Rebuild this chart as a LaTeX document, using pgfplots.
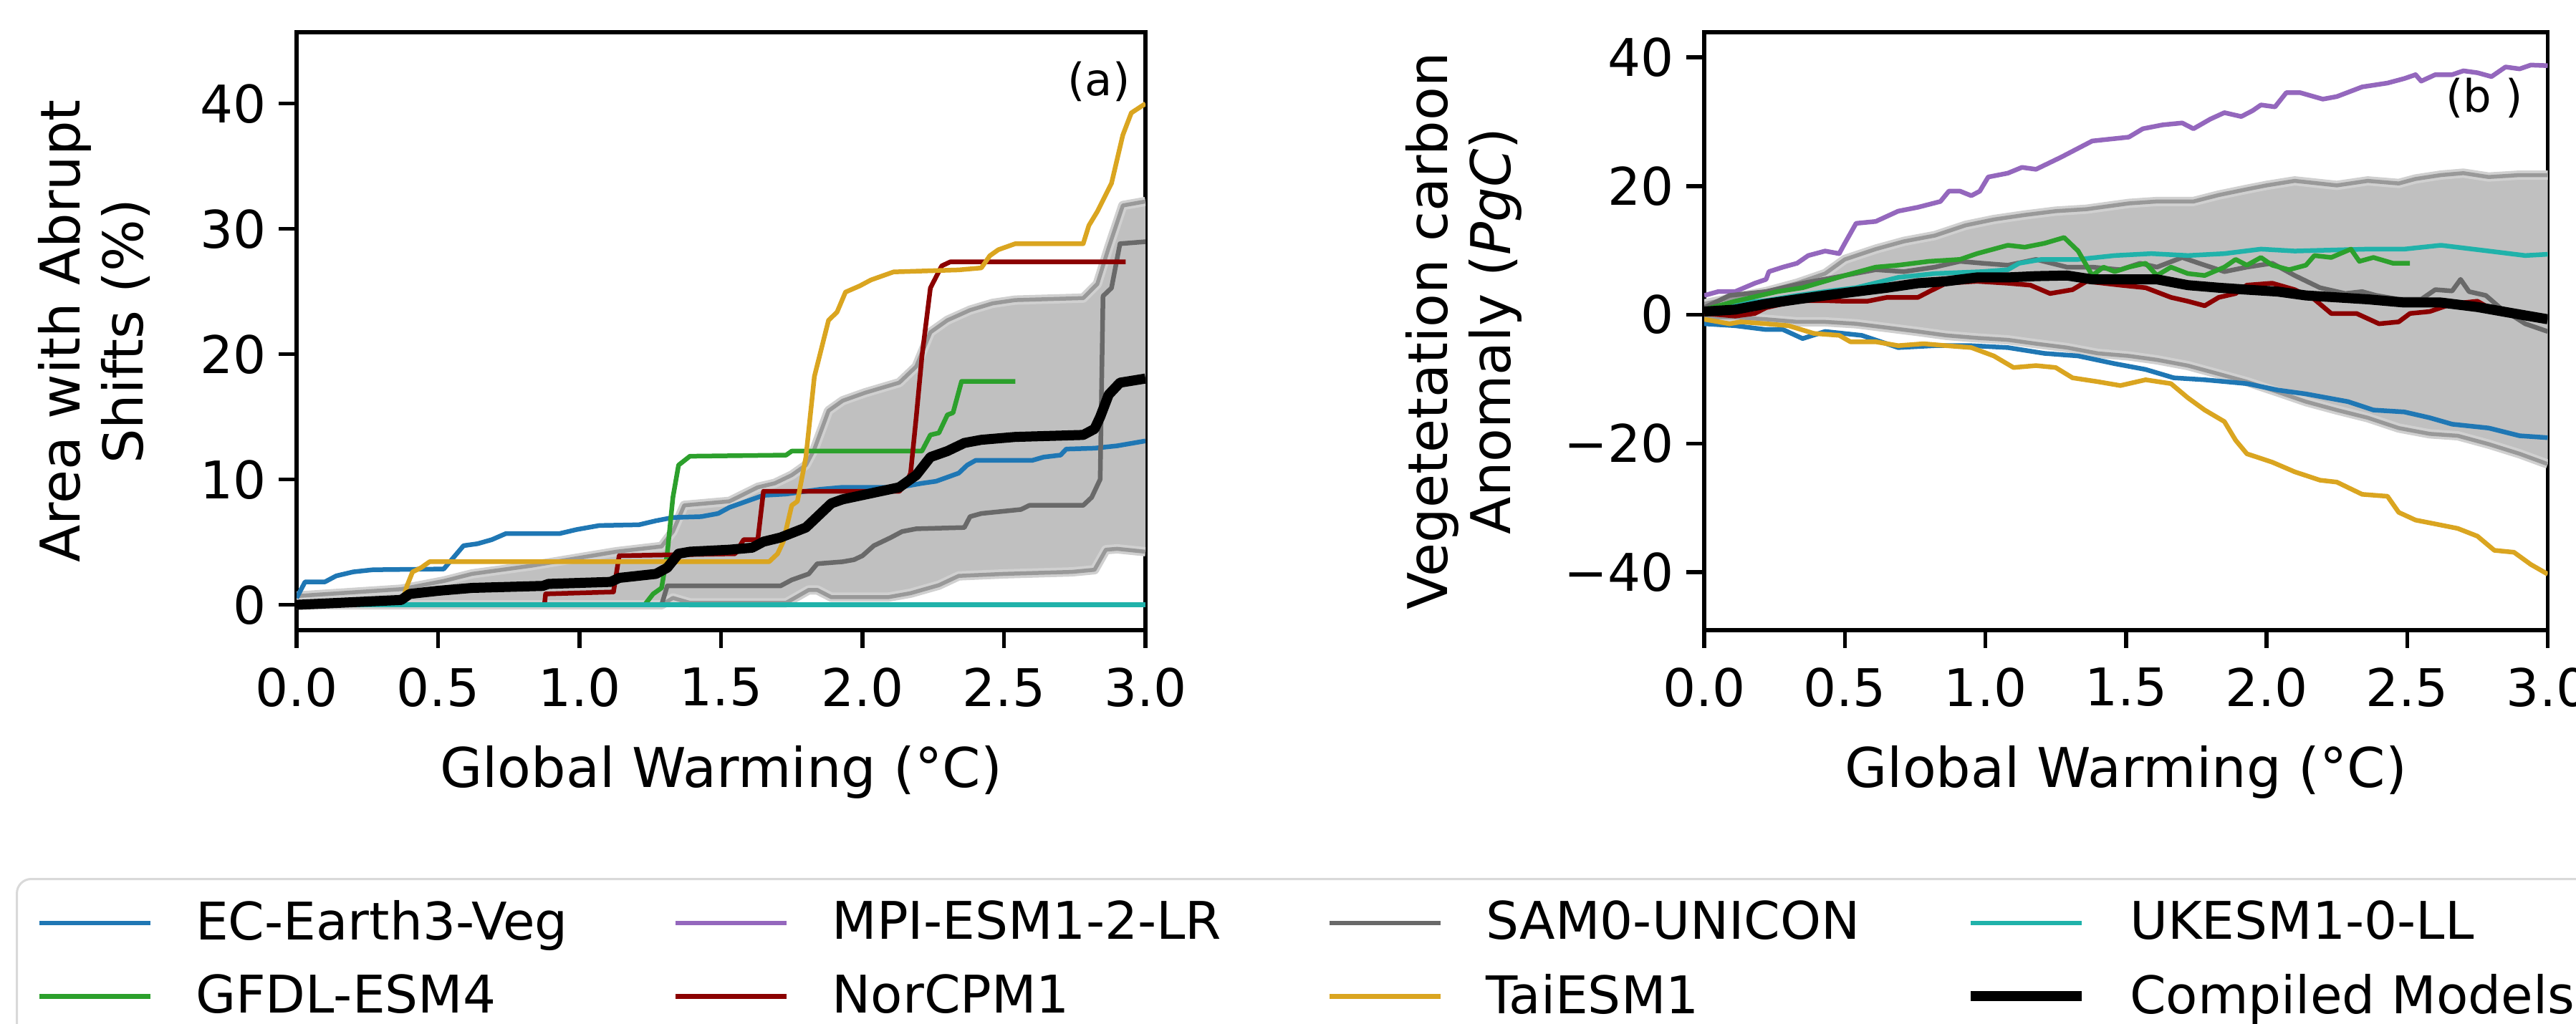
\documentclass[border=0pt]{standalone}
\usepackage{fontspec}
\setmainfont{DejaVu Sans}
\usepackage{pgfplots}
\pgfplotsset{compat=1.18}
\usepgfplotslibrary{fillbetween}

\definecolor{cEC}{HTML}{1F77B4}
\definecolor{cGF}{HTML}{2CA02C}
\definecolor{cMP}{HTML}{9467BD}
\definecolor{cNO}{HTML}{8B0000}
\definecolor{cSA}{HTML}{696969}
\definecolor{cTA}{HTML}{DAA520}
\definecolor{cUK}{HTML}{20B2AA}
\definecolor{band}{HTML}{C0C0C0}
\definecolor{bandedge}{HTML}{999999}
\definecolor{bandhalo}{HTML}{D0D0D0}

\newcommand{\fs}{\fontsize{14.5}{17.4}\selectfont}
\newcommand{\fl}{\fontsize{15.3}{17.6}\selectfont}

\pgfplotsset{
  panel/.style={
    scale only axis, height=167pt, set layers,
    xmin=0, xmax=3, xtick={0,0.5,...,3},
    xticklabels={0.0,0.5,1.0,1.5,2.0,2.5,3.0},
    axis line style={line width=1.1pt},
    tick style={line width=1.1pt, black}, tick align=outside,
    major tick length=5pt, xtick pos=left, ytick pos=left,
    tick label style={font=\fs}, label style={font=\fl},
    xticklabel style={yshift=-2pt},
    /pgf/number format/assume math mode=true,
    xlabel={Global Warming (°C)}, xlabel shift=4pt,
    ylabel style={align=center},
    every axis plot/.append style={line width=1.3pt, line join=round},
  },
  mean/.style={black, line width=2.8pt},
  edge/.style={bandedge, line width=1.1pt, preaction={draw=bandhalo, line width=2.6pt}},
}

\begin{document}
\begin{tikzpicture}

% ---------- (a) area with abrupt shifts
\begin{axis}[panel, width=237pt, at={(82.8pt,110pt)}, anchor=south west,
  ymin=-2.02, ymax=45.7, ytick={0,10,20,30,40},
  ylabel={Area with Abrupt\\Shifts (\%)}, ylabel shift=7pt]

\addplot[edge, name path=aup] table {
x y
0 0.7
0.37 1.25
0.52 1.9
0.62 2.47
0.83 3.12
1.13 4.24
1.29 4.66
1.33 5.85
1.37 7.94
1.53 8.26
1.63 9.38
1.69 9.70
1.75 10.35
1.80 11.15
1.83 12.43
1.88 15.49
1.93 16.29
2.01 16.93
2.13 17.73
2.19 19.02
2.24 21.75
2.30 22.71
2.38 23.52
2.46 24.06
2.54 24.32
2.78 24.48
2.83 25.61
2.87 28.50
2.92 31.87
3.00 32.19
};
\addplot[edge, name path=alo] table {
x y
0 0
1.29 0
1.33 0.55
1.39 0.16
1.73 0.16
1.81 1.19
1.84 1.19
1.89 0.61
2.09 0.61
2.17 0.93
2.27 1.57
2.34 2.31
2.50 2.47
2.74 2.63
2.82 2.80
2.86 4.40
2.90 4.47
3.00 4.24
};
\addplot[band] fill between[of=aup and alo];

% EC-Earth3-Veg
\addplot[cEC] table {
x y
0 0.55
0.03 1.83
0.10 1.83
0.14 2.31
0.20 2.63
0.27 2.80
0.52 2.86
0.56 3.92
0.59 4.72
0.64 4.88
0.69 5.20
0.74 5.69
0.93 5.69
0.99 6.01
1.07 6.33
1.21 6.39
1.27 6.71
1.33 6.97
1.43 7.04
1.49 7.29
1.53 7.78
1.59 8.26
1.65 8.74
1.73 8.84
1.85 9.22
1.93 9.38
2.13 9.38
2.21 9.70
2.26 9.86
2.34 10.51
2.37 11.15
2.40 11.53
2.60 11.53
2.64 11.79
2.70 11.95
2.72 12.43
2.82 12.50
2.90 12.69
3.00 13.08
};
% SAM0-UNICON
\addplot[cSA] table {
x y
0 0
1.29 0
1.31 1.51
1.71 1.51
1.75 1.99
1.81 2.47
1.84 3.28
1.93 3.44
1.97 3.60
2.00 3.92
2.04 4.72
2.10 5.37
2.14 5.85
2.19 6.07
2.36 6.17
2.38 7.04
2.42 7.29
2.56 7.61
2.59 7.94
2.78 7.94
2.81 8.58
2.84 10.02
2.85 24.64
2.88 25.29
2.91 28.82
3.00 28.98
};
% GFDL-ESM4
\addplot[cGF] table {
x y
0 0
1.23 0
1.26 0.87
1.29 1.35
1.31 4.08
1.33 8.58
1.35 11.15
1.39 11.86
1.73 11.95
1.75 12.27
2.21 12.27
2.24 13.56
2.27 13.72
2.30 15.16
2.32 15.33
2.35 17.83
2.54 17.83
};
% NorCPM1
\addplot[cNO] table {
x y
0 0
0.876 0
0.88 0.87
1.12 1.03
1.14 3.92
1.55 4.08
1.58 5.20
1.63 5.20
1.65 9.06
2.13 9.06
2.15 9.54
2.17 10.51
2.19 15.00
2.21 19.82
2.24 25.29
2.28 27.05
2.31 27.37
2.93 27.37
};
% TaiESM1
\addplot[cTA] table {
x y
0 0
0.37 0
0.39 1.51
0.41 2.63
0.44 2.96
0.47 3.44
1.67 3.44
1.70 4.08
1.72 5.04
1.75 7.94
1.77 8.26
1.80 11.79
1.83 18.22
1.88 22.71
1.91 23.36
1.94 24.96
1.99 25.45
2.03 25.93
2.11 26.57
2.34 26.73
2.42 26.89
2.45 27.86
2.48 28.34
2.54 28.82
2.78 28.82
2.80 30.27
2.83 31.39
2.88 33.64
2.92 37.49
2.95 39.26
3.00 40.00
};
% UKESM1-0-LL
\addplot[cUK] table {
x y
0 0
3 0
};
% compiled models
\addplot[mean] table {
x y
0 0
0.37 0.39
0.40 0.87
0.50 1.12
0.62 1.35
0.87 1.51
0.89 1.67
1.11 1.83
1.14 2.15
1.27 2.47
1.31 2.96
1.35 4.08
1.39 4.24
1.53 4.40
1.61 4.56
1.65 5.04
1.71 5.37
1.80 6.17
1.89 8.10
1.93 8.42
2.03 8.90
2.13 9.38
2.19 10.35
2.24 11.79
2.30 12.27
2.36 12.92
2.42 13.17
2.54 13.40
2.78 13.56
2.82 14.04
2.84 15.00
2.87 16.77
2.91 17.73
3.00 18.06
};
\node[font=\fontsize{12.5}{15}\selectfont] at (rel axis cs:0.945,0.918) {(a)};
\end{axis}

% ---------- (b) vegetation carbon anomaly
\begin{axis}[panel, width=235.5pt, at={(475.8pt,110pt)}, anchor=south west,
  ymin=-49, ymax=43.9, ytick={-40,-20,0,20,40},
  yticklabels={−40,−20,0,20,40},
  ylabel={Vegetetation carbon\\Anomaly (\textit{PgC})}, ylabel shift=5pt,
  legend columns=4, legend cell align=left,
  legend image code/.code={\draw[#1] (0pt,0pt) -- (31pt,0pt);},
  legend style={at={(-2.0017,-0.4144)}, anchor=north west,
    draw=gray!30, line width=0.6pt, rounded corners=4pt, font=\fs,
    inner xsep=5.6pt, inner ysep=6pt, row sep=8pt,
    nodes={inner sep=0pt},
    /tikz/every odd column/.append style={column sep=12pt},
    /tikz/every even column/.append style={column sep=29.5pt}}]

\addplot[edge, name path=bup, forget plot] table {
x y
0 1.7
0.11 2.7
0.22 3.6
0.33 4.9
0.43 6.4
0.50 8.6
0.61 10.2
0.71 11.4
0.82 12.3
0.93 13.9
1.03 14.8
1.14 15.5
1.25 16.1
1.36 16.4
1.51 17.3
1.61 17.6
1.74 17.6
1.83 18.6
1.93 19.5
2.00 20.1
2.10 20.8
2.25 20.1
2.36 20.8
2.47 20.4
2.53 21.1
2.62 21.7
2.70 22.0
2.79 21.4
2.90 21.7
3.00 21.7
};
\addplot[edge, name path=blo, forget plot] table {
x y
0 -0.4
0.11 -0.4
0.22 -0.7
0.33 -1.1
0.43 -1.1
0.54 -1.4
0.65 -2.0
0.76 -2.6
0.86 -3.2
0.97 -3.6
1.08 -3.9
1.18 -4.5
1.29 -5.1
1.40 -6.0
1.51 -6.4
1.61 -7.0
1.72 -7.9
1.83 -9.2
1.93 -10.4
2.04 -12.0
2.14 -13.5
2.25 -14.8
2.36 -16.0
2.47 -17.6
2.58 -18.5
2.68 -18.8
2.79 -20.1
2.90 -21.6
3.00 -23.2
};
\addplot[band, forget plot] fill between[of=bup and blo];

% EC-Earth3-Veg
\addplot[cEC] table {
x y
0 -1.4
0.11 -1.7
0.22 -2.3
0.28 -2.3
0.35 -3.7
0.43 -2.6
0.56 -3.2
0.69 -5.1
0.82 -4.8
0.95 -4.8
1.08 -5.1
1.21 -6.0
1.33 -6.4
1.46 -7.6
1.57 -8.5
1.67 -9.8
1.78 -10.1
1.93 -10.7
2.04 -11.7
2.14 -12.3
2.29 -13.5
2.38 -14.8
2.49 -15.1
2.58 -16.0
2.66 -17.0
2.79 -17.6
2.90 -18.8
3.00 -19.1
};
\addlegendentry{EC-Earth3-Veg}
% MPI-ESM1-2-LR
\addplot[cMP] table {
x y
0 3.0
0.05 3.6
0.11 3.6
0.18 4.9
0.22 5.5
0.23 6.7
0.28 7.4
0.33 8.0
0.37 9.2
0.43 9.9
0.48 9.5
0.50 11.1
0.54 14.2
0.61 14.5
0.69 16.1
0.76 16.7
0.84 17.6
0.87 19.2
0.91 19.2
0.95 18.5
0.98 19.2
1.01 21.4
1.08 22.0
1.13 22.9
1.18 22.6
1.27 24.5
1.38 27.0
1.51 27.6
1.56 28.9
1.63 29.5
1.70 29.8
1.74 28.9
1.80 30.4
1.85 31.4
1.91 30.8
1.95 31.7
1.98 32.6
2.03 32.3
2.07 34.5
2.12 34.5
2.20 33.5
2.25 33.9
2.34 35.4
2.43 36.0
2.49 36.7
2.53 37.3
2.55 36.3
2.60 37.3
2.66 37.3
2.70 37.9
2.75 37.6
2.80 37.0
2.85 38.5
2.90 38.2
2.94 38.8
3.00 38.7
};
\addlegendentry{MPI-ESM1-2-LR}
% SAM0-UNICON
\addplot[cSA] table {
x y
0 1.1
0.09 3.0
0.22 3.6
0.35 4.9
0.50 6.1
0.61 7.0
0.71 6.7
0.82 7.4
0.91 8.3
0.99 8.0
1.08 7.7
1.18 8.6
1.29 7.4
1.38 7.4
1.48 7.0
1.55 8.0
1.61 7.4
1.70 8.9
1.76 8.0
1.85 6.7
1.93 7.4
2.02 8.0
2.10 6.1
2.19 4.2
2.28 3.3
2.34 3.6
2.39 3.0
2.47 2.4
2.55 2.4
2.60 3.9
2.66 3.7
2.69 5.5
2.72 3.6
2.78 3.0
2.83 1.1
2.92 -1.4
3.00 -2.6
};
\addlegendentry{SAM0-UNICON}
% UKESM1-0-LL
\addplot[cUK] table {
x y
0 0.5
0.09 1.7
0.22 2.2
0.33 3.0
0.43 3.6
0.54 4.2
0.69 5.8
0.82 6.4
0.99 6.7
1.08 7.0
1.12 8.0
1.20 8.6
1.33 8.6
1.46 9.2
1.59 9.5
1.72 9.2
1.85 9.5
1.98 10.2
2.10 9.9
2.36 10.2
2.49 10.2
2.62 10.8
2.79 9.9
2.92 9.2
3.00 9.4
};
\addlegendentry{UKESM1-0-LL}
% GFDL-ESM4
\addplot[cGF] table {
x y
0 0.8
0.11 2.1
0.26 3.6
0.35 4.2
0.50 6.1
0.61 7.4
0.69 7.7
0.80 8.3
0.91 8.6
0.97 9.5
1.08 10.8
1.14 10.5
1.21 11.1
1.28 12.0
1.33 9.9
1.38 6.1
1.42 7.4
1.46 6.7
1.51 7.4
1.57 8.0
1.61 6.1
1.66 7.4
1.72 6.4
1.78 6.1
1.85 7.4
1.89 8.6
1.93 7.7
1.98 8.9
2.02 7.7
2.08 7.0
2.14 7.7
2.17 9.2
2.23 8.9
2.30 10.2
2.33 8.3
2.38 8.9
2.45 8.0
2.51 8.0
};
\addlegendentry{GFDL-ESM4}
% NorCPM1
\addplot[cNO] table {
x y
0 0.2
0.11 -0.2
0.18 0.2
0.22 1.1
0.33 2.2
0.43 2.2
0.50 2.1
0.58 2.1
0.65 2.7
0.76 2.7
0.80 3.6
0.86 4.9
0.97 5.2
1.08 4.9
1.16 4.6
1.23 3.3
1.31 3.9
1.36 5.2
1.48 4.6
1.57 4.2
1.66 2.7
1.72 2.1
1.78 1.4
1.83 2.7
1.89 3.3
1.93 4.6
2.02 4.9
2.10 3.9
2.17 2.4
2.23 0.2
2.32 0.2
2.40 -1.4
2.47 -1.1
2.51 0.2
2.58 0.5
2.66 1.7
2.75 2.1
2.79 1.1
};
\addlegendentry{NorCPM1}
% TaiESM1
\addplot[cTA] table {
x y
0 -0.7
0.09 -1.4
0.13 -1.1
0.22 -1.4
0.30 -1.7
0.39 -2.9
0.48 -3.2
0.52 -4.2
0.61 -4.2
0.69 -4.8
0.78 -4.5
0.86 -4.8
0.95 -5.1
1.03 -6.4
1.10 -8.2
1.18 -7.9
1.25 -8.2
1.31 -9.8
1.40 -10.4
1.48 -11.0
1.57 -10.1
1.66 -10.7
1.72 -12.9
1.78 -14.8
1.85 -16.6
1.89 -19.5
1.93 -21.6
2.02 -22.9
2.10 -24.4
2.19 -25.7
2.25 -26.0
2.34 -27.9
2.43 -28.2
2.47 -30.7
2.53 -31.9
2.60 -32.5
2.68 -33.2
2.75 -34.4
2.81 -36.6
2.88 -36.9
2.94 -38.8
3.00 -40.3
};
\addlegendentry{TaiESM1}
% compiled models
\addplot[mean] table {
x y
0 0.5
0.11 0.8
0.22 1.7
0.33 2.4
0.43 3.0
0.54 3.6
0.65 4.2
0.76 4.9
0.86 5.2
0.97 5.8
1.08 5.8
1.18 6.0
1.29 6.1
1.38 5.5
1.51 5.5
1.61 5.5
1.72 4.6
1.83 4.2
1.93 3.9
2.04 3.6
2.14 3.0
2.25 2.7
2.36 2.4
2.49 1.9
2.62 1.9
2.75 1.2
2.88 0.2
3.00 -0.7
};
\addlegendentry{Compiled Models}
\node[font=\fontsize{12.5}{15}\selectfont] at (rel axis cs:0.925,0.89) {(b )};
\end{axis}

\pgfresetboundingbox
\path[use as bounding box] (0,0) rectangle (719.2pt,286pt);
\end{tikzpicture}
\end{document}
